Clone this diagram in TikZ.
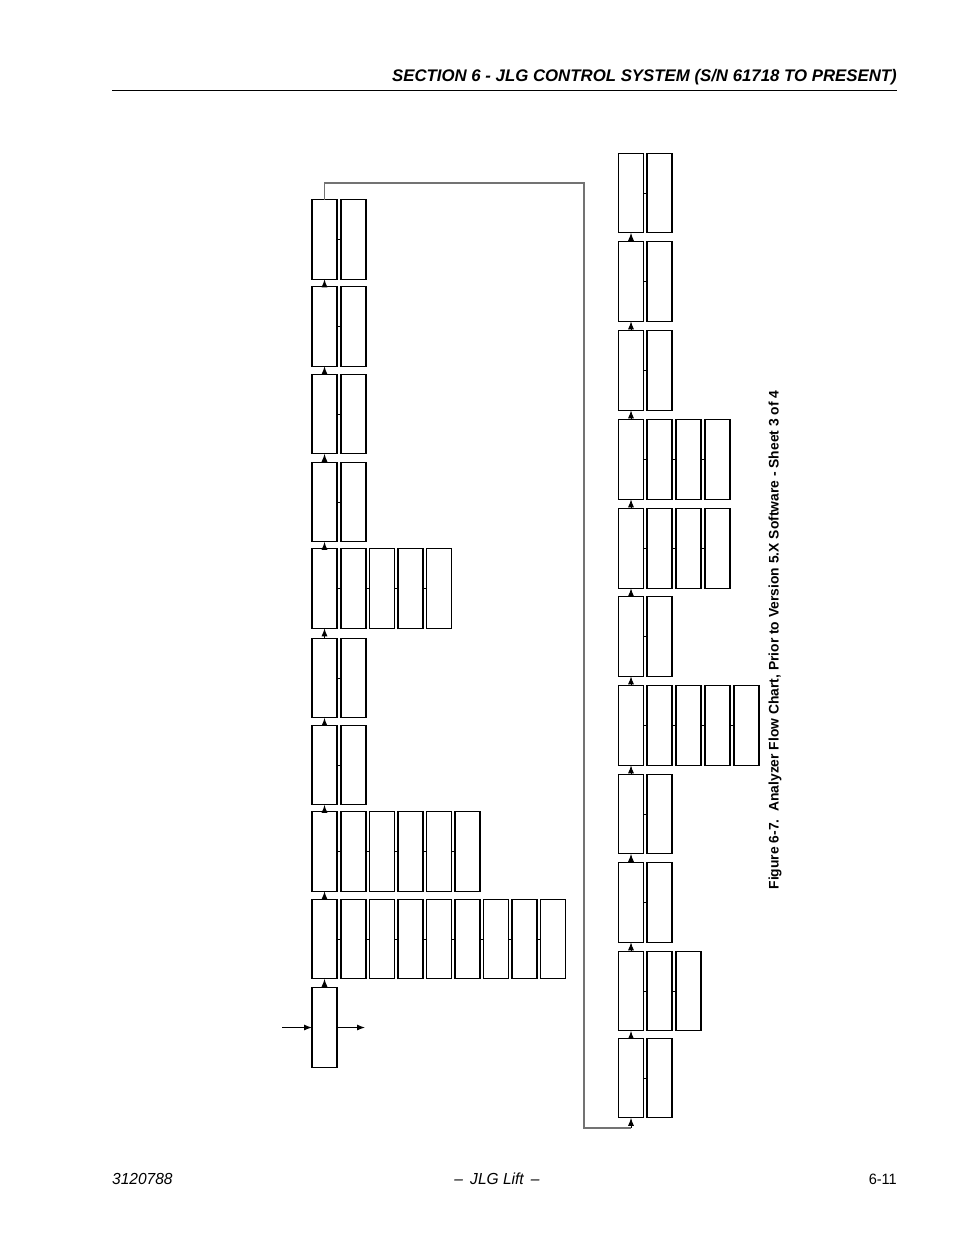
\documentclass[tikz,border=0pt]{standalone}
\usepackage{fontspec}
\setmainfont{Liberation Sans}
\newfontfamily\narrowfont[FakeStretch=0.97]{Liberation Sans}
\usetikzlibrary{arrows.meta}
\tikzset{
  bx/.style={draw=black, line width=1.3pt, minimum width=25pt, minimum height=79.5pt, inner sep=0pt, outer sep=0pt},
  uparrow/.style={line width=1pt, -{Latex[length=8pt,width=6pt]}},
  link/.style={line width=1pt},
  loopline/.style={draw=black!55, line width=1.1pt},
}
\begin{document}
\begin{tikzpicture}[x=1pt,y=-1pt]
\useasboundingbox (0,0) rectangle (954,1235);
% header
\node[anchor=base east, inner sep=0pt, font=\fontsize{16.8}{18}\selectfont\bfseries\itshape] (hdr) at (897,81) {SECTION 6 - JLG CONTROL SYSTEM (S/N 61718 TO PRESENT)};
\draw[line width=1pt] (112,90) coordinate (r1) -- (897,90) coordinate (r2);
% footer
\node[anchor=base west, inner sep=0pt, font=\narrowfont\fontsize{16}{18}\selectfont\itshape] (f1) at (112,1184) {3120788};
\node[anchor=base, inner sep=0pt, font=\narrowfont\fontsize{16}{18}\selectfont\itshape] (f2) at (497,1184) {–\hspace{0.45em}JLG Lift\hspace{0.45em}–};
\node[anchor=base east, inner sep=0pt, font=\narrowfont\fontsize{15}{18}\selectfont] (f3) at (897,1184) {6-11};
% caption
\node[rotate=90, inner sep=0pt, font=\fontsize{13.85}{15}\selectfont\bfseries] (cap) at (775,640) {Figure 6-7.\ \ Analyzer Flow Chart, Prior to Version 5.X Software - Sheet 3 of 4};

% left column
\foreach \r/\y/\n in {1/1027.5/0, 2/939/8, 3/851.5/5, 4/765/1, 5/678/1, 6/588.5/4, 7/502/1, 8/414/1, 9/326.5/1, 10/239.5/1} {
  \node[bx] (L\r-0) at (324.5,\y) {};
  \ifnum\n>0
  \foreach \c in {1,...,\n} {
    \pgfmathsetmacro\xx{353.5+28.5*(\c-1)}
    \node[bx] (L\r-\c) at (\xx,\y) {};
    \pgfmathtruncatemacro\p{\c-1}
    \draw[link] (L\r-\p.east) -- (L\r-\c.west);
  }
  \fi
}
\foreach \r [count=\s from 2] in {1,...,9} {
  \draw[uparrow] (L\r-0.north) -- (L\s-0.south);
}
\coordinate (inL) at (282,1027.5);
\coordinate (outR) at (365,1027.5);
\draw[uparrow] (inL) -- (L1-0.west);
\draw[uparrow] (L1-0.east) -- (outR);

% right column
\foreach \r/\y/\n in {1/1078/1, 2/991/2, 3/902.5/1, 4/814/1, 5/725.5/4, 6/636.5/1, 7/548.5/3, 8/459.5/3, 9/370.5/1, 10/281.5/1, 11/193/1} {
  \node[bx] (R\r-0) at (631,\y) {};
  \foreach \c in {1,...,\n} {
    \pgfmathsetmacro\xx{659.5+29*(\c-1)}
    \node[bx] (R\r-\c) at (\xx,\y) {};
    \pgfmathtruncatemacro\p{\c-1}
    \draw[link] (R\r-\p.east) -- (R\r-\c.west);
  }
}
\foreach \r [count=\s from 2] in {1,...,10} {
  \draw[uparrow] (R\r-0.north) -- (R\s-0.south);
}

% loop connector
\coordinate (lp1) at (324.5,183);
\coordinate (lp2) at (584,183);
\coordinate (lp3) at (584,1128);
\coordinate (lp4) at (631,1128);
\draw[loopline] (L10-0.north) -- (lp1) -- (lp2) -- (lp3) -- (lp4);
\draw[uparrow] (lp4) -- (R1-0.south);
\end{tikzpicture}
\end{document}
